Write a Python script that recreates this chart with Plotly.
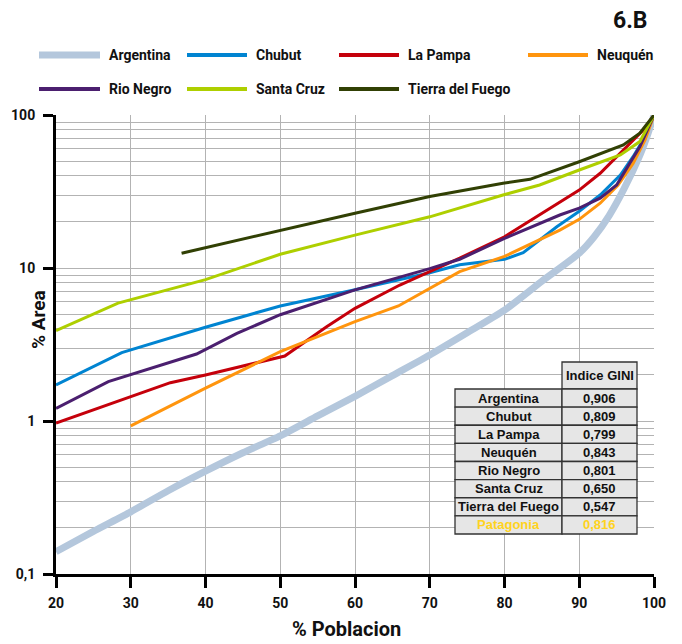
import plotly.graph_objects as go

# ---------------- data ----------------
argentina_x = [20, 25, 30, 35, 40, 45, 50, 55, 60, 65, 70, 75, 80, 85, 90, 92, 94, 96, 98, 99, 100]
argentina_y = [0.14, 0.19, 0.255, 0.35, 0.47, 0.62, 0.8, 1.08, 1.45, 1.98, 2.7, 3.77, 5.3, 8.2, 12.5, 16, 22, 33, 53, 71, 100]

chubut_x = [20, 28.8, 40, 50, 60, 70, 74, 80, 82.5, 87, 90, 92.8, 95.5, 97.2, 98.8, 100]
chubut_y = [1.72, 2.8, 4.1, 5.65, 7.2, 9.3, 10.5, 11.4, 12.6, 18.6, 23.5, 30, 40.5, 53.4, 72, 100]

lapampa_x = [20, 35.3, 40, 50.6, 56.2, 60, 66, 70, 74, 80, 87.4, 90, 92.8, 95.2, 97.2, 98.8, 100]
lapampa_y = [0.97, 1.78, 2.0, 2.66, 4.13, 5.45, 7.74, 9.46, 11.6, 16, 27.1, 32.3, 41.6, 54.8, 68.7, 82, 100]

neuquen_x = [30, 40, 50, 52.6, 60, 65.8, 70, 74, 80, 87.4, 90, 92.8, 95.2, 97.2, 98.8, 100]
neuquen_y = [0.93, 1.64, 2.84, 3.2, 4.46, 5.65, 7.37, 9.46, 11.9, 17.7, 20.8, 26.5, 34.9, 48.3, 68.7, 100]

rionegro_x = [20, 27, 38.8, 44.2, 50, 60, 70, 74, 80, 87.4, 90, 92.8, 95, 98.1, 100]
rionegro_y = [1.21, 1.81, 2.74, 3.74, 4.95, 7.2, 9.9, 11.4, 15.6, 22.2, 24.6, 28.6, 34.9, 62, 100]

santacruz_x = [20, 28.3, 40, 50, 60, 70, 79.8, 84.7, 90, 95.5, 98.1, 100]
santacruz_y = [3.9, 5.9, 8.4, 12.3, 16.4, 21.6, 30, 34.9, 43.7, 54.8, 67, 100]

tdf_x = [36.8, 50, 60, 70, 79.8, 83.4, 90, 95.9, 98.1, 100]
tdf_y = [12.5, 17.7, 22.8, 29.3, 35.8, 38, 49.5, 63.7, 76, 100]

series_names = ["Argentina", "Chubut", "La Pampa", "Neuquén", "Rio Negro", "Santa Cruz", "Tierra del Fuego"]
series_x = [argentina_x, chubut_x, lapampa_x, neuquen_x, rionegro_x, santacruz_x, tdf_x]
series_y = [argentina_y, chubut_y, lapampa_y, neuquen_y, rionegro_y, santacruz_y, tdf_y]

gini_names = ["Argentina", "Chubut", "La Pampa", "Neuquén", "Rio Negro", "Santa Cruz", "Tierra del Fuego", "Patagonia"]
gini_values = ["0,906", "0,809", "0,799", "0,843", "0,801", "0,650", "0,547", "0,816"]

x_ticks = [20, 30, 40, 50, 60, 70, 80, 90, 100]
y_ticks = [0.1, 1, 10, 100]
y_ticktext = ["0,1", "1", "10", "100"]

# ---------------- style ----------------
colors = ["#b4c7dc", "#0084d1", "#c5000b", "#ff950e", "#4b1f6f", "#aecf00", "#314004"]
widths = [7, 3, 3, 3, 3, 3, 3]
shapes_line = ["spline", "linear", "linear", "linear", "linear", "linear", "linear"]
NARROW = "Roboto, Liberation Sans Narrow, sans-serif"
REG = "Liberation Sans, Arial, sans-serif"
GRID = "#b3b3b3"

# page has an 8px body margin; the figure is shifted by it
OFF = 8
PAGE_W, PAGE_H = 682, 644
W, H = PAGE_W - OFF, PAGE_H - OFF
L, R, T, B = 56, 654, 115, 574   # plot area in page pixels


def fx(p):
    return (p - L) / (R - L)


def fy(p):
    return (B - p) / (B - T)


fig = go.Figure()
for name, xs, ys, c, w, sh in zip(series_names, series_x, series_y, colors, widths, shapes_line):
    fig.add_trace(go.Scatter(x=xs, y=ys, mode="lines", name=name,
                             line=dict(color=c, width=w, shape=sh, smoothing=0.6),
                             showlegend=False, hoverinfo="skip"))

shapes = []
annotations = []

# custom legend
leg_pos = [(39, 100, 107, 55), (187, 247, 254, 55), (339, 399, 406, 55), (528, 588, 595, 55),
           (39, 100, 107, 89), (187, 247, 254, 89), (339, 399, 406, 89)]
for name, c, w, (x0, x1, xt, yy) in zip(series_names, colors, widths, leg_pos):
    shapes.append(dict(type="line", xref="paper", yref="paper", x0=fx(x0), x1=fx(x1),
                       y0=fy(yy), y1=fy(yy), line=dict(color=c, width=w if w > 3 else 4)))
    annotations.append(dict(text=name, xref="paper", yref="paper", x=fx(xt), y=fy(yy),
                            xanchor="left", yanchor="middle", showarrow=False,
                            font=dict(family=NARROW, size=14, color="#111", weight="bold")))

# title
annotations.append(dict(text="6.B", xref="paper", yref="paper", x=fx(650), y=fy(20),
                        xanchor="right", yanchor="middle", showarrow=False,
                        font=dict(family=NARROW, size=23, color="#111", weight="bold")))
# axis titles
annotations.append(dict(text="% Area", xref="paper", yref="paper", x=fx(38), y=fy(320),
                        xanchor="center", yanchor="middle", showarrow=False, textangle=-90,
                        font=dict(family=NARROW, size=19, color="#111", weight="bold")))
annotations.append(dict(text="% Poblacion", xref="paper", yref="paper", x=fx(346), y=fy(629),
                        xanchor="center", yanchor="middle", showarrow=False,
                        font=dict(family=NARROW, size=20, color="#111", weight="bold")))

# GINI table
tl, tm, tr = 455, 562, 637
th_top, rows_top, rows_bot = 362, 389, 534
rh = (rows_bot - rows_top) / len(gini_names)
cell_line = dict(color="#333333", width=1.3)
cell_fill = "#e6e6e6"
shapes.append(dict(type="rect", xref="paper", yref="paper", x0=fx(tm), x1=fx(tr),
                   y0=fy(rows_top), y1=fy(th_top), fillcolor=cell_fill, line=cell_line, layer="above"))
annotations.append(dict(text="Indice GINI", xref="paper", yref="paper", x=fx((tm + tr) / 2),
                        y=fy((th_top + rows_top) / 2), xanchor="center", yanchor="middle", showarrow=False,
                        font=dict(family=REG, size=13, color="#111", weight="bold")))
for i, (nm, val) in enumerate(zip(gini_names, gini_values)):
    y0 = rows_top + i * rh
    y1 = y0 + rh
    for (a, b) in [(tl, tm), (tm, tr)]:
        shapes.append(dict(type="rect", xref="paper", yref="paper", x0=fx(a), x1=fx(b),
                           y0=fy(y1), y1=fy(y0), fillcolor=cell_fill, line=cell_line, layer="above"))
    tc = "#ffd320" if nm == "Patagonia" else "#111"
    annotations.append(dict(text=nm, xref="paper", yref="paper", x=fx((tl + tm) / 2), y=fy((y0 + y1) / 2),
                            xanchor="center", yanchor="middle", showarrow=False,
                            font=dict(family=REG, size=13, color=tc, weight="bold")))
    annotations.append(dict(text=val, xref="paper", yref="paper", x=fx((tm + tr) / 2), y=fy((y0 + y1) / 2),
                            xanchor="center", yanchor="middle", showarrow=False,
                            font=dict(family=REG, size=13, color=tc, weight="bold")))

minor_vals = [m * d for d in [0.1, 1, 10] for m in range(2, 10)]

fig.update_layout(
    width=W, height=H, autosize=False,
    margin=dict(l=L - OFF, r=PAGE_W - R, t=T - OFF, b=PAGE_H - B, pad=0, autoexpand=False),
    paper_bgcolor="white", plot_bgcolor="white",
    showlegend=False,
    shapes=shapes, annotations=annotations,
    xaxis=dict(range=[20, 100], tickvals=x_ticks, ticktext=[str(v) for v in x_ticks],
               automargin=False,
               showgrid=True, gridcolor=GRID, gridwidth=1, zeroline=False,
               showline=True, linecolor="black", linewidth=3,
               ticks="outside", ticklen=11, tickwidth=3, tickcolor="black",
               ticklabelstandoff=3,
               tickfont=dict(family=NARROW, size=14, color="#111", weight="bold")),
    yaxis=dict(type="log", range=[-1, 2], tickvals=y_ticks, ticktext=y_ticktext,
               automargin=False,
               showgrid=True, gridcolor=GRID, gridwidth=1, zeroline=False,
               showline=True, linecolor="black", linewidth=3,
               ticks="outside", ticklen=10, tickwidth=3, tickcolor="black",
               ticklabelstandoff=5,
               tickfont=dict(family=NARROW, size=14, color="#111", weight="bold"),
               minor=dict(tickvals=minor_vals, showgrid=True, gridcolor=GRID, gridwidth=1, ticks="")),
)

fig.write_html("out.html")
